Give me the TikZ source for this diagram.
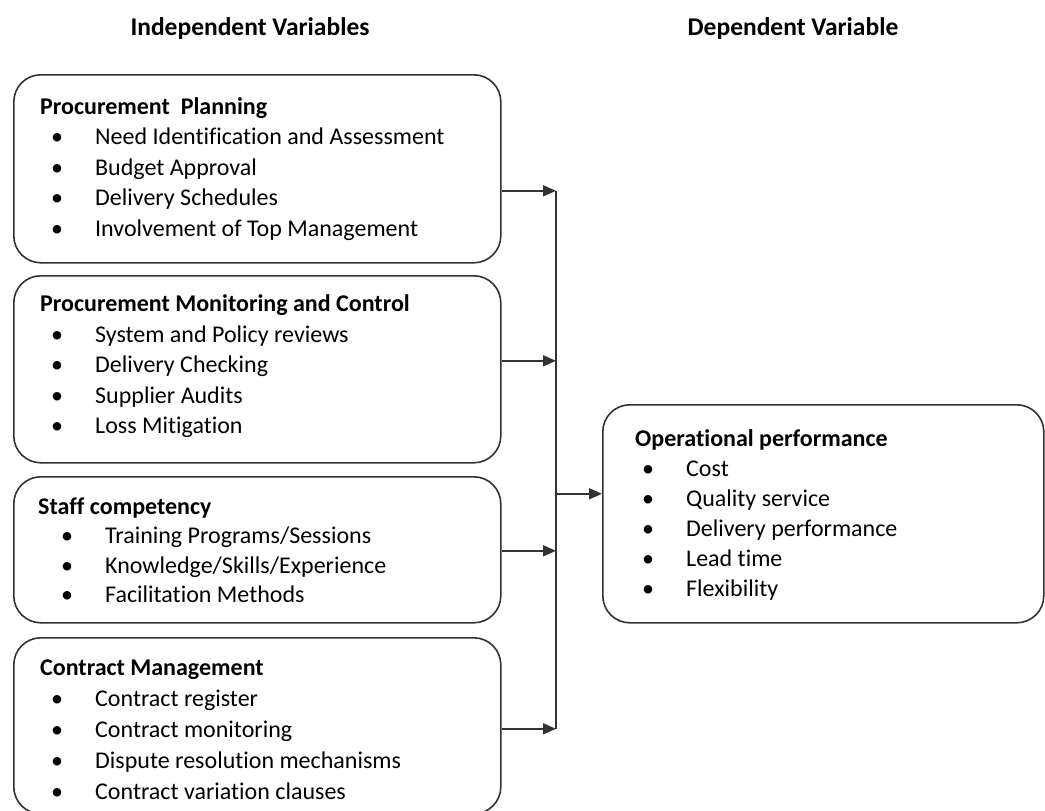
\documentclass[tikz,border=0pt]{standalone}
\usepackage{fontspec}
\setmainfont[Ligatures=CommonOff]{Carlito}
\usetikzlibrary{arrows.meta}

\newcommand{\itm}[2][11pt]{\hspace*{#1}\makebox[44pt][l]{\textbullet}#2}

\tikzset{
  box/.style = {draw = black!80, line width = 1.6pt, rounded corners = 27pt, inner sep = 0pt, anchor = north west},
  list/.style = {inner sep = 0pt, anchor = north west, align = left, font = \fontsize{24}{30.5}\selectfont},
  head/.style = {inner sep = 0pt, anchor = base, font = \fontsize{25.5}{30}\selectfont\bfseries},
  link/.style = {draw = black!80, line width = 1.6pt},
  arr/.style = {link, -{Triangle[length = 13pt, width = 11pt]}}
}

\begin{document}
\begin{tikzpicture}[x = 1pt, y = -1pt]
\clip (0,0) rectangle (1045,811);
\fill [white] (0,0) rectangle (1045,811);

\node [head] (indep) at (250,35) {Independent Variables};
\node [head] (dep) at (793,35) {Dependent Variable};

\node [box, minimum width = 487pt, minimum height = 188pt] (plan) at (13,74) {};
\node [box, minimum width = 487pt, minimum height = 187pt] (mon) at (13,275) {};
\node [box, minimum width = 487pt, minimum height = 146pt] (staff) at (13,476) {};
\node [box, minimum width = 487pt, minimum height = 176pt] (cont) at (13,637) {};
\node [box, minimum width = 441pt, minimum height = 218pt] (perf) at (602,404) {};

\node [list] (plantxt) at (40,92.6) {\strut\textbf{Procurement\ \ Planning}\\
  \itm{Need Identification and Assessment}\\
  \itm{Budget Approval}\\
  \itm{Delivery Schedules}\\
  \itm{Involvement of Top Management}};
\node [list] (montxt) at (40,290) {\strut\textbf{Procurement Monitoring and Control}\\
  \itm{System and Policy reviews}\\
  \itm{Delivery Checking}\\
  \itm{Supplier Audits}\\
  \itm{Loss Mitigation}};
\node [list, font = \fontsize{24}{29.5}\selectfont] (stafftxt) at (38,493.6) {\strut\textbf{Staff competency}\\
  \itm[23pt]{Training Programs/Sessions}\\
  \itm[23pt]{Knowledge/Skills/Experience}\\
  \itm[23pt]{Facilitation Methods}};
\node [list, font = \fontsize{24}{31}\selectfont] (conttxt) at (40,653.6) {\strut\textbf{Contract Management}\\
  \itm{Contract register}\\
  \itm{Contract monitoring}\\
  \itm{Dispute resolution mechanisms}\\
  \itm{Contract variation clauses}};
\node [list, font = \fontsize{24}{30}\selectfont] (perftxt) at (635,425.6) {\strut\textbf{Operational performance}\\
  \itm[7pt]{Cost}\\
  \itm[7pt]{Quality service}\\
  \itm[7pt]{Delivery performance}\\
  \itm[7pt]{Lead time}\\
  \itm[7pt]{Flexibility}};

\coordinate (bus) at (556,0);
\coordinate (bustop) at ([yshift = -22pt]plan.east -| bus);
\coordinate (busmid) at ([yshift = 20pt]perf.west -| bus);
\coordinate (busend) at ([yshift = -3pt]cont.east -| bus);

\draw [link] (bustop) -- (busend);
\draw [arr] ([yshift = -22pt]plan.east) -- (bustop);
\draw [arr] ([yshift = 8.5pt]mon.east) -- ([yshift = 8.5pt]mon.east -| bus);
\draw [arr] ([yshift = -1pt]staff.east) -- ([yshift = -1pt]staff.east -| bus);
\draw [arr] ([yshift = -3pt]cont.east) -- (busend);
\draw [arr] (busmid) -- ([yshift = 20pt]perf.west);
\end{tikzpicture}
\end{document}
